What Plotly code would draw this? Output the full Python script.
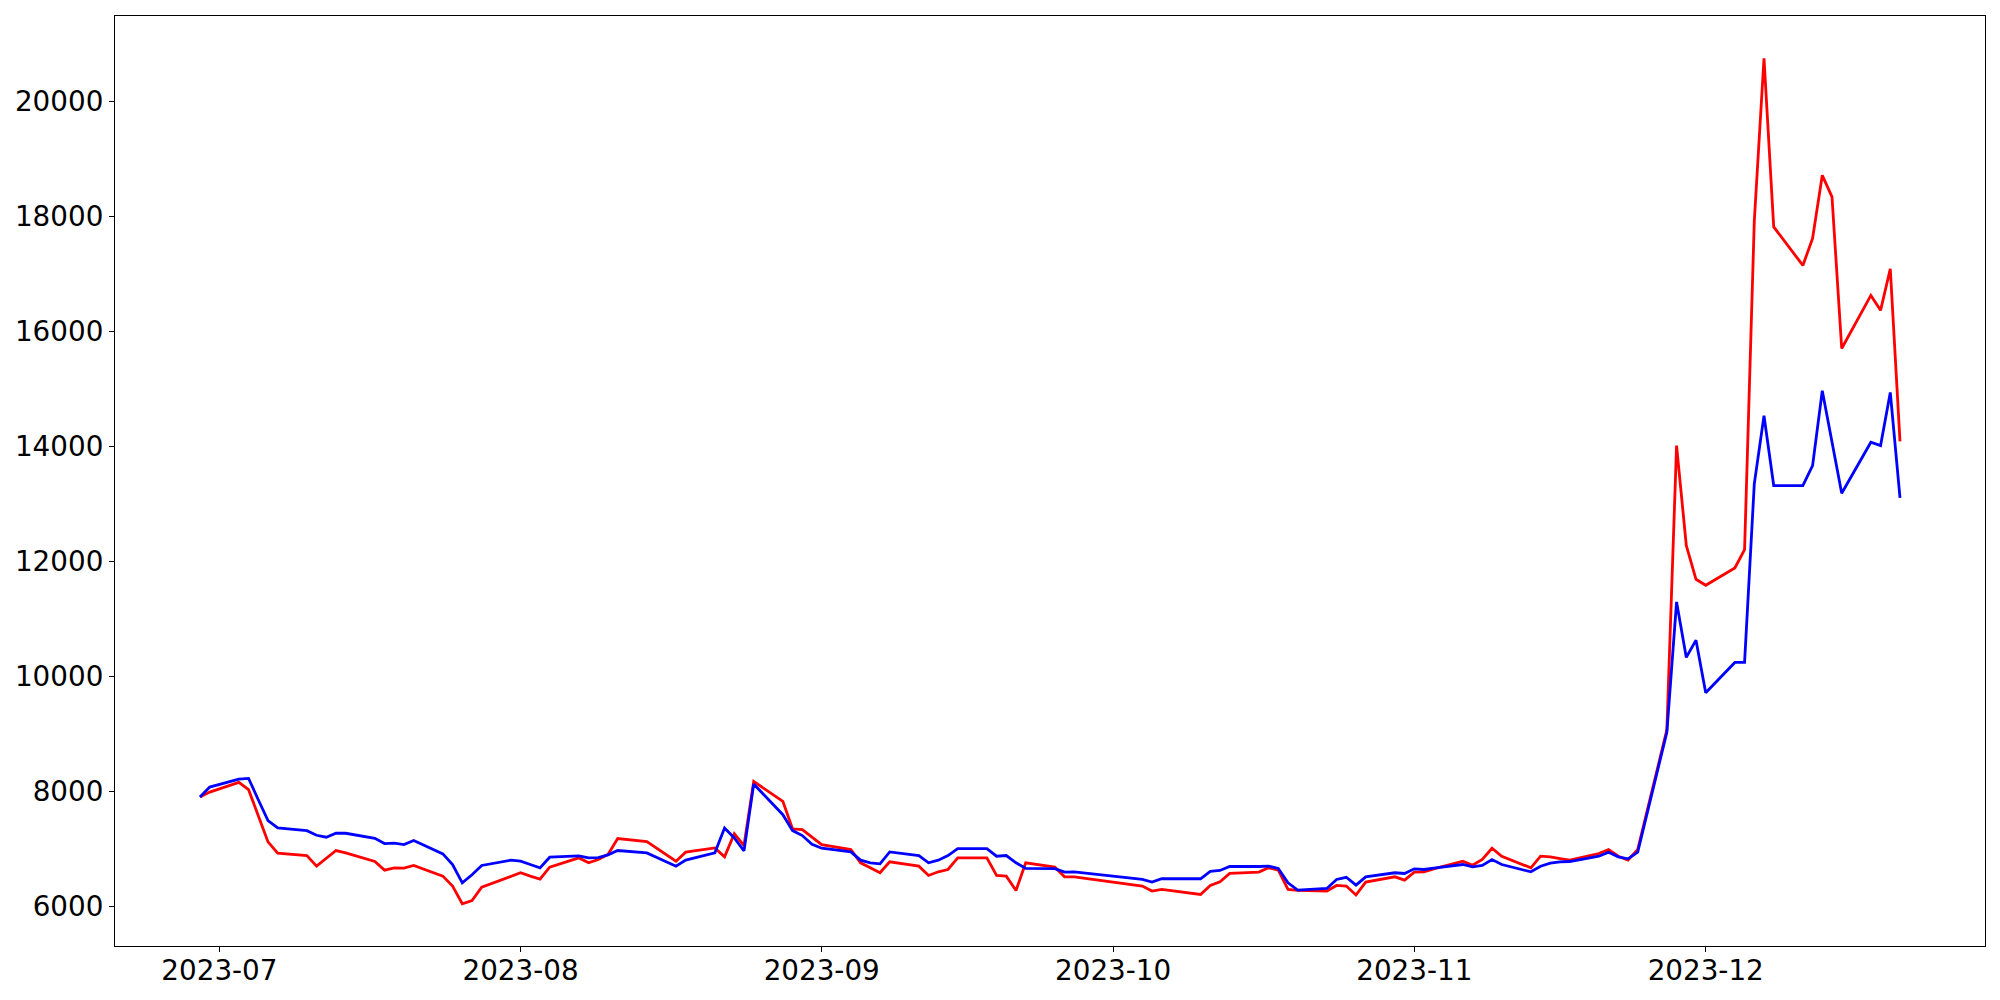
import plotly.graph_objects as go
import pandas as pd

dates = [
    "2023-06-29", "2023-06-30",
    "2023-07-03", "2023-07-04", "2023-07-05", "2023-07-06", "2023-07-07",
    "2023-07-10", "2023-07-11", "2023-07-12", "2023-07-13", "2023-07-14",
    "2023-07-17", "2023-07-18", "2023-07-19", "2023-07-20", "2023-07-21",
    "2023-07-24", "2023-07-25", "2023-07-26", "2023-07-27", "2023-07-28",
    "2023-07-31", "2023-08-01", "2023-08-02", "2023-08-03", "2023-08-04",
    "2023-08-07", "2023-08-08", "2023-08-09", "2023-08-10", "2023-08-11",
    "2023-08-14", "2023-08-17", "2023-08-18",
    "2023-08-21", "2023-08-22", "2023-08-23", "2023-08-24", "2023-08-25",
    "2023-08-28", "2023-08-29", "2023-08-30", "2023-08-31", "2023-09-01",
    "2023-09-04", "2023-09-05", "2023-09-06", "2023-09-07", "2023-09-08",
    "2023-09-11", "2023-09-12", "2023-09-13", "2023-09-14", "2023-09-15",
    "2023-09-18", "2023-09-19", "2023-09-20", "2023-09-21", "2023-09-22",
    "2023-09-25", "2023-09-26", "2023-09-27",
    "2023-10-04", "2023-10-05", "2023-10-06",
    "2023-10-10", "2023-10-11", "2023-10-12", "2023-10-13",
    "2023-10-16", "2023-10-17", "2023-10-18", "2023-10-19", "2023-10-20",
    "2023-10-23", "2023-10-24", "2023-10-25", "2023-10-26", "2023-10-27",
    "2023-10-30", "2023-10-31", "2023-11-01", "2023-11-02", "2023-11-03",
    "2023-11-06", "2023-11-07", "2023-11-08", "2023-11-09", "2023-11-10",
    "2023-11-13", "2023-11-14", "2023-11-15", "2023-11-16", "2023-11-17",
    "2023-11-20", "2023-11-21", "2023-11-22", "2023-11-23", "2023-11-24",
    "2023-11-27", "2023-11-28", "2023-11-29", "2023-11-30", "2023-12-01",
    "2023-12-04", "2023-12-05", "2023-12-06", "2023-12-07", "2023-12-08",
    "2023-12-11", "2023-12-12", "2023-12-13", "2023-12-14", "2023-12-15",
    "2023-12-18", "2023-12-19", "2023-12-20", "2023-12-21",
]

red_values = [
    7901, 7987,
    8155, 8028, 7577, 7121, 6924,
    6884, 6699, 6843, 6971, 6930,
    6780, 6630, 6670, 6665, 6711,
    6526, 6353, 6046, 6100, 6335,
    6526, 6584, 6526, 6474, 6682,
    6843, 6757, 6815, 6901, 7179,
    7127, 6786, 6942,
    7017, 6861, 7265, 7057, 8172,
    7825, 7346, 7334, 7207, 7074,
    6988, 6757, 6670, 6584, 6774,
    6699, 6537, 6601, 6641, 6844,
    6844, 6537, 6526, 6277, 6757,
    6682, 6514, 6514,
    6353, 6266, 6295,
    6208, 6364, 6428, 6572,
    6595, 6670, 6630, 6295, 6278,
    6266, 6364, 6353, 6197, 6422,
    6514, 6457, 6595, 6601, 6653,
    6786, 6716, 6815, 7011, 6872,
    6670, 6872, 6861, 6832, 6803,
    6919, 6988, 6872, 6803, 6988,
    9068, 14010, 12276, 11686, 11582,
    11883, 12201, 17911, 20744, 17813,
    17143, 17611, 18709, 18333, 15698,
    16622, 16362, 17085, 14085,
]

blue_values = [
    7901, 8074,
    8212, 8224, 7854, 7490, 7363,
    7317, 7236, 7202, 7271, 7271,
    7184, 7092, 7098, 7075, 7144,
    6913, 6728, 6410, 6550, 6711,
    6803, 6786, 6728, 6670, 6855,
    6878, 6844, 6849, 6896, 6971,
    6930, 6699, 6803,
    6930, 7363, 7190, 6965, 8126,
    7594, 7317, 7231, 7080, 7011,
    6947, 6803, 6757, 6740, 6947,
    6884, 6757, 6803, 6884, 7005,
    7005, 6872, 6884, 6757, 6659,
    6656, 6595, 6601,
    6468, 6422, 6480,
    6480, 6607, 6624, 6693,
    6693, 6699, 6659, 6410, 6283,
    6312, 6468, 6506, 6370, 6514,
    6584, 6572, 6653, 6641, 6664,
    6728, 6688, 6711, 6815, 6728,
    6601, 6699, 6751, 6774, 6780,
    6872, 6942, 6861, 6826, 6942,
    9027, 11293, 10328, 10628, 9715,
    10241, 10241, 13345, 14530, 13316,
    13316, 13663, 14964, 14056, 13183,
    14068, 14010, 14935, 13102,
]

tick_dates = ["2023-07-01", "2023-08-01", "2023-09-01", "2023-10-01", "2023-11-01", "2023-12-01"]
tick_labels = ["2023-07", "2023-08", "2023-09", "2023-10", "2023-11", "2023-12"]
y_ticks = [6000, 8000, 10000, 12000, 14000, 16000, 18000, 20000]

# matplotlib-like 5% margins
d = pd.to_datetime(dates)
span = d.max() - d.min()
x0 = d.min() - span * 0.05
x1 = d.max() + span * 0.05
allv = red_values + blue_values
vmin, vmax = min(allv), max(allv)
pad = (vmax - vmin) * 0.05
y0, y1 = vmin - pad, vmax + pad

fig = go.Figure()
fig.add_trace(go.Scatter(x=dates, y=red_values, mode="lines",
                         line=dict(color="#ff0000", width=2.8), showlegend=False))
fig.add_trace(go.Scatter(x=dates, y=blue_values, mode="lines",
                         line=dict(color="#0000ff", width=2.8), showlegend=False))

axis_common = dict(showgrid=False, zeroline=False, showline=True, mirror=True,
                   linecolor="black", linewidth=1.1, ticks="outside", ticklen=5,
                   tickwidth=1.1, tickcolor="black",
                   tickfont=dict(family="DejaVu Sans", size=27.8, color="black"))

fig.update_xaxes(type="date", range=[x0, x1], tickvals=tick_dates, ticktext=tick_labels,
                 ticklabelstandoff=-5, **axis_common)
fig.update_yaxes(range=[y0, y1], tickvals=y_ticks, ticktext=[str(v) for v in y_ticks],
                 **axis_common)

# page body has an 8px margin, so the figure is sized to fit inside the window
fig.update_layout(width=1992, height=992, paper_bgcolor="white", plot_bgcolor="white",
                  margin=dict(l=105, r=15, t=7, b=54, pad=0))

fig.write_html("out.html")
